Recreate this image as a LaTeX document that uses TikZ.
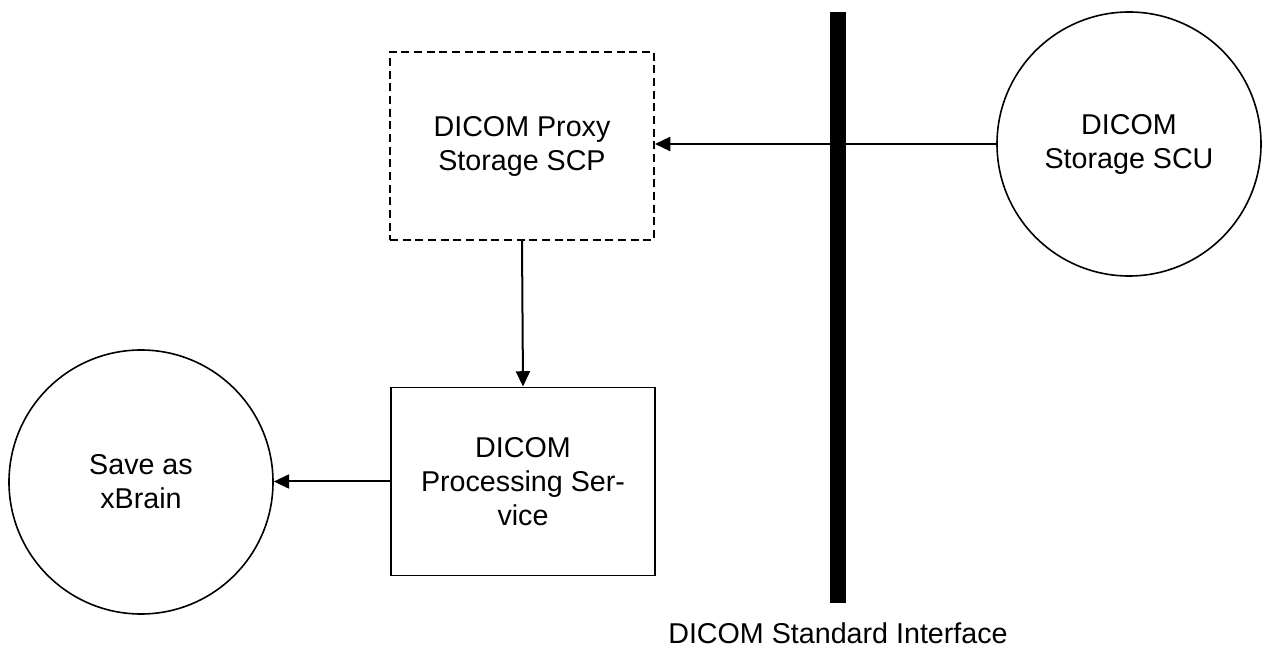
\documentclass[tikz,border=0pt]{standalone}
\usepackage{fontspec}
\setmainfont{Liberation Sans}
\usetikzlibrary{arrows.meta}
\begin{document}
\begin{tikzpicture}[x=0.75pt,y=-0.75pt,
  every node/.style={font=\fontsize{21.5pt}{25.5pt}\selectfont},
  boxnode/.style={draw,line width=1.4pt,rectangle,inner sep=0pt,align=center,minimum width=198pt,minimum height=141pt},
  circnode/.style={draw,line width=1.2pt,circle,inner sep=0pt,align=center,minimum size=198pt},
  conn/.style={line width=1.5pt,-{Triangle[length=11.5pt,width=10.5pt]}}]
\useasboundingbox (0,0) rectangle (1264,648);
\node[boxnode,dash pattern=on 6pt off 3.5pt] (proxy) at (522,146) {DICOM Proxy\\Storage SCP};
\node[boxnode] (proc) at (523,481.5) {DICOM\\Processing Ser-\\vice};
\node[circnode] (save) at (141,482) {Save as\\xBrain};
\node[circnode] (scu) at (1129,144) {DICOM\\Storage SCU};
\fill (830,12) rectangle (846,603);
\node (bar) at (838,633) {DICOM Standard Interface};
\draw[conn] (scu.west) -- (scu.west -| proxy.east);
\draw[conn] (proxy.south) -- (proc.north);
\draw[conn] (proc.west) -- (proc.west -| save.east);
\end{tikzpicture}
\end{document}
